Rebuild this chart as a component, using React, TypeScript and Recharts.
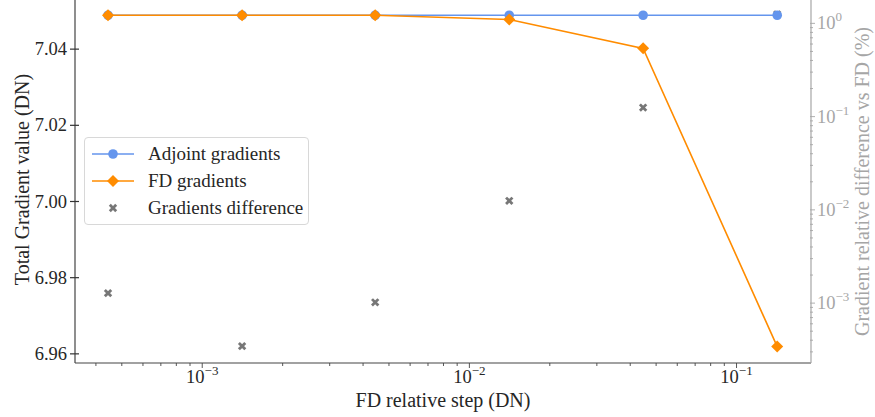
import React from 'react';
import { ComposedChart, Line, Scatter, XAxis, YAxis, Legend } from 'recharts';

// FD relative step (DN) and the measured gradients at each step
const steps = [4.44e-4, 1.41e-3, 4.44e-3, 1.41e-2, 4.47e-2, 1.42e-1];
const adjointGrad = [7.0489, 7.0489, 7.0489, 7.0489, 7.0489, 7.0489];
const fdGrad = [7.0489, 7.0489, 7.0489, 7.0478, 7.0402, 6.9619];
const gradDiffPct = [1.28e-3, 3.46e-4, 1.02e-3, 1.25e-2, 1.25e-1, 1.25];

const seriesNames = ['Adjoint gradients', 'FD gradients', 'Gradients difference'];

const stepTicks = [1e-3, 1e-2, 1e-1];
const gradTicks = [6.96, 6.98, 7.0, 7.02, 7.04];
const diffTicks = [1e-3, 1e-2, 1e-1, 1];

const STEP_DOMAIN: [number, number] = [3.34e-4, 0.19];
const GRAD_DOMAIN: [number, number] = [6.9576, 7.0529];
const DIFF_DOMAIN: [number, number] = [2.28e-4, 1.78];

const FONT = '"Liberation Serif", "DejaVu Serif", serif';
const BLUE = '#6495ed';
const ORANGE = '#ff8c00';
const GRAY = '#777777';
const RIGHT_GRAY = '#a6a6a6';
const INK = '#262626';

const data = steps.map((s, i) => ({
  step: s,
  adjoint: adjointGrad[i],
  fd: fdGrad[i],
  diff: gradDiffPct[i],
}));

// 2..9 x 10^k between lo and hi, for unlabelled minor ticks
function logMinors(lo: number, hi: number) {
  const out: number[] = [];
  for (let e = Math.floor(Math.log10(lo)); e <= Math.ceil(Math.log10(hi)); e++) {
    for (let m = 2; m <= 9; m++) {
      const v = m * Math.pow(10, e);
      if (v >= lo && v <= hi) out.push(v);
    }
  }
  return out;
}

const expOf = (v: number) => Math.round(Math.log10(v));
const supText = (e: number) => (e < 0 ? `\u2212${-e}` : `${e}`);

function Power({ x, y, value, anchor, fill }: any) {
  return (
    <text x={x} y={y} textAnchor={anchor} fill={fill} fontSize={18.5} fontFamily={FONT}>
      10
      <tspan dy={-8} fontSize={13}>
        {supText(expOf(value))}
      </tspan>
    </text>
  );
}

function StepTick({ x, y, payload }: any) {
  const major = stepTicks.includes(payload.value);
  return (
    <g>
      <line x1={x} x2={x} y1={y} y2={y + (major ? 5 : 3)} stroke="#444" strokeWidth={0.9} />
      {major && <Power x={x} y={y + 20} value={payload.value} anchor="middle" fill={INK} />}
    </g>
  );
}

function GradTick({ x, y, payload }: any) {
  return (
    <g>
      <line x1={x - 5} x2={x + 4} y1={y} y2={y} stroke="#333" strokeWidth={1.2} />
      <text x={x - 8} y={y} dy="0.33em" textAnchor="end" fill={INK} fontSize={18.5} fontFamily={FONT}>
        {payload.value.toFixed(2)}
      </text>
    </g>
  );
}

function DiffTick({ x, y, payload }: any) {
  const major = diffTicks.includes(payload.value);
  return (
    <g>
      <line x1={x - 1} x2={x + (major ? 4 : 2)} y1={y} y2={y} stroke={RIGHT_GRAY} strokeWidth={0.9} />
      {major && <Power x={x + 6} y={y + 6} value={payload.value} anchor="start" fill={RIGHT_GRAY} />}
    </g>
  );
}

function StepTitle({ viewBox }: any) {
  return (
    <text x={viewBox.x + viewBox.width / 2} y={viewBox.y + 44} textAnchor="middle" fill={INK} fontSize={20} fontFamily={FONT}>
      FD relative step (DN)
    </text>
  );
}

function GradTitle({ viewBox }: any) {
  const cx = 22;
  const cy = viewBox.y + viewBox.height / 2 - 2;
  return (
    <text x={cx} y={cy} dy="0.35em" transform={`rotate(-90, ${cx}, ${cy})`} textAnchor="middle" fill={INK} fontSize={20} fontFamily={FONT}>
      Total Gradient value (DN)
    </text>
  );
}

function DiffTitle({ viewBox }: any) {
  const cx = viewBox.x + 51;
  const cy = viewBox.y + viewBox.height / 2;
  return (
    <text x={cx} y={cy} dy="0.35em" transform={`rotate(-90, ${cx}, ${cy})`} textAnchor="middle" fill={RIGHT_GRAY} fontSize={20} fontFamily={FONT}>
      Gradient relative difference vs FD (%)
    </text>
  );
}

function Diamond({ cx, cy, index }: any) {
  const r = 6;
  return (
    <polygon
      key={`d-${index}`}
      points={`${cx},${cy - r} ${cx + r},${cy} ${cx},${cy + r} ${cx - r},${cy}`}
      fill={ORANGE}
    />
  );
}

function Cross({ cx, cy }: any) {
  const s = 3.2;
  return (
    <g stroke={GRAY} strokeWidth={2.8}>
      <line x1={cx - s} y1={cy - s} x2={cx + s} y2={cy + s} />
      <line x1={cx - s} y1={cy + s} x2={cx + s} y2={cy - s} />
    </g>
  );
}

function LegendIcon({ kind }: { kind: number }) {
  return (
    <svg width={42} height={14} style={{ display: 'block' }}>
      {kind === 0 && (
        <>
          <line x1={0} x2={42} y1={7} y2={7} stroke={BLUE} strokeWidth={1.6} />
          <circle cx={21} cy={7} r={4.8} fill={BLUE} />
        </>
      )}
      {kind === 1 && (
        <>
          <line x1={0} x2={42} y1={7} y2={7} stroke={ORANGE} strokeWidth={1.6} />
          <Diamond cx={21} cy={7} index={0} />
        </>
      )}
      {kind === 2 && <Cross cx={21} cy={7} />}
    </svg>
  );
}

function LegendBox() {
  return (
    <div
      style={{
        border: '1px solid #d8d8d8',
        borderRadius: 4,
        background: 'rgba(255,255,255,0.85)',
        padding: '2px 4px 3px 7px',
        fontFamily: FONT,
        fontSize: 19,
        color: INK,
        boxSizing: 'border-box',
        width: 225,
      }}
    >
      {seriesNames.map((name, i) => (
        <div key={name} style={{ display: 'flex', alignItems: 'center', height: 27 }}>
          <LegendIcon kind={i} />
          <span style={{ marginLeft: 14, whiteSpace: 'nowrap' }}>{name}</span>
        </div>
      ))}
    </div>
  );
}

export default function App() {
  return (
    <div style={{ position: 'absolute', left: 0, top: 0, width: 875, height: 417, background: '#fff' }}>
      <ComposedChart width={875} height={417} data={data} margin={{ top: 0, right: 0, bottom: 0, left: 0 }}>
        <XAxis
          type="number"
          dataKey="step"
          scale="log"
          domain={STEP_DOMAIN}
          allowDataOverflow
          ticks={[...stepTicks, ...logMinors(STEP_DOMAIN[0], STEP_DOMAIN[1])]}
          interval={0}
          height={54}
          tickSize={0}
          tickMargin={0}
          tickLine={false}
          tick={<StepTick />}
          axisLine={{ stroke: '#444', strokeWidth: 1.2 }}
          label={<StepTitle />}
        />
        <YAxis
          yAxisId="grad"
          type="number"
          domain={GRAD_DOMAIN}
          allowDataOverflow
          ticks={gradTicks}
          interval={0}
          width={75}
          tickSize={0}
          tickMargin={0}
          tickLine={false}
          tick={<GradTick />}
          axisLine={{ stroke: '#444', strokeWidth: 1.2 }}
          label={<GradTitle />}
        />
        <YAxis
          yAxisId="diff"
          orientation="right"
          type="number"
          scale="log"
          domain={DIFF_DOMAIN}
          allowDataOverflow
          ticks={[...diffTicks, ...logMinors(DIFF_DOMAIN[0], DIFF_DOMAIN[1])]}
          interval={0}
          width={64}
          tickSize={0}
          tickMargin={0}
          tickLine={false}
          tick={<DiffTick />}
          axisLine={{ stroke: RIGHT_GRAY, strokeWidth: 1.2 }}
          label={<DiffTitle />}
        />
        <Legend
          layout="vertical"
          align="center"
          verticalAlign="middle"
          wrapperStyle={{ left: 84, top: 137, width: 225 }}
          content={() => <LegendBox />}
        />
        <Line
          yAxisId="grad"
          dataKey="adjoint"
          name={seriesNames[0]}
          stroke={BLUE}
          strokeWidth={1.6}
          dot={{ r: 4.8, fill: BLUE, stroke: 'none' }}
          isAnimationActive={false}
        />
        <Line
          yAxisId="grad"
          dataKey="fd"
          name={seriesNames[1]}
          stroke={ORANGE}
          strokeWidth={1.6}
          dot={(p: any) => <Diamond key={`fd-${p.index}`} {...p} />}
          isAnimationActive={false}
        />
        <Scatter
          yAxisId="diff"
          dataKey="diff"
          name={seriesNames[2]}
          shape={(p: any) => <Cross {...p} />}
          isAnimationActive={false}
        />
      </ComposedChart>
    </div>
  );
}
